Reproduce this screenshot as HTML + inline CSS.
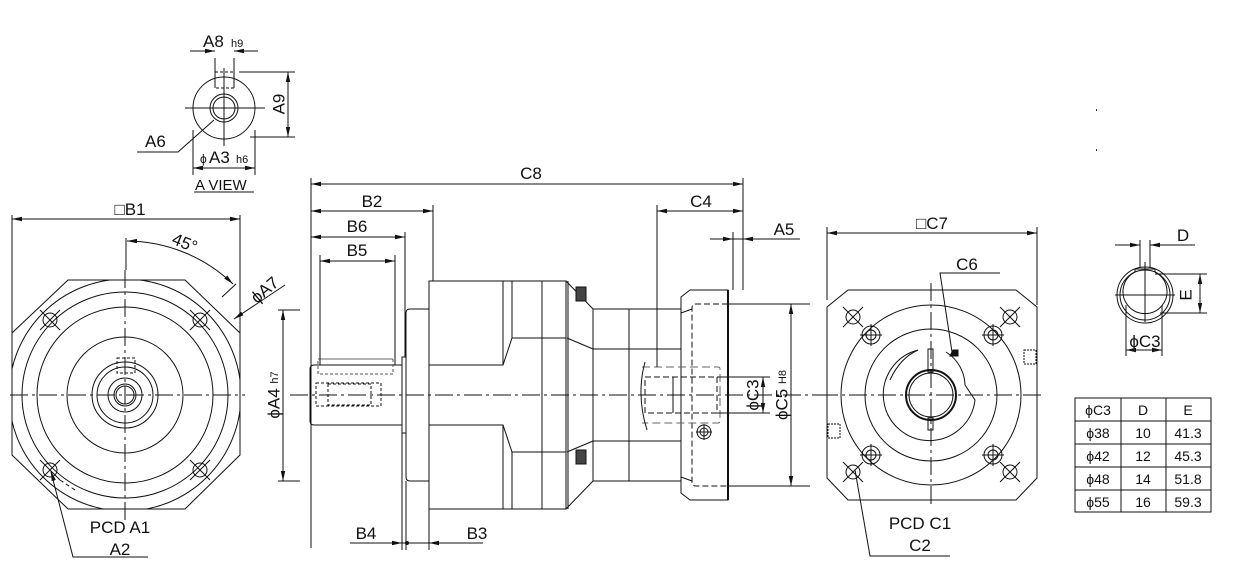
<!DOCTYPE html>
<html><head><meta charset="utf-8"><style>
html,body{margin:0;padding:0;background:#fff;}
svg{display:block;}
text{font-family:"Liberation Sans",Arial,sans-serif;fill:#111;}
</style></head><body>
<svg width="1236" height="588" viewBox="0 0 1236 588" xmlns="http://www.w3.org/2000/svg">
<defs>
<marker id="ar" viewBox="0 0 10 6" refX="10" refY="3" markerWidth="10" markerHeight="6" orient="auto-start-reverse" markerUnits="userSpaceOnUse"><path d="M0,0.8 L10,3 L0,5.2z" fill="#111"/></marker>
<clipPath id="lc"><polygon points="68,280 185,280 240,333 240,455 185,509 68,509 12,455 12,333"/></clipPath>
</defs>
<g fill="none" stroke="#111" stroke-width="1">

<!-- ===== A VIEW ===== -->
<circle cx="224" cy="108" r="31"/>
<circle cx="224" cy="108" r="14"/>
<circle cx="224" cy="108" r="11"/>
<rect x="215" y="72" width="19" height="16" stroke-dasharray="3,2"/>
<line x1="185" y1="108" x2="265" y2="108"/>
<line x1="224" y1="68" x2="224" y2="146"/>
<line x1="215" y1="58" x2="215" y2="88"/><line x1="234" y1="58" x2="234" y2="88"/>
<line x1="190" y1="51" x2="215" y2="51" marker-end="url(#ar)"/>
<line x1="258" y1="51" x2="234" y2="51" marker-end="url(#ar)"/>
<line x1="239" y1="72" x2="295" y2="72"/><line x1="250" y1="137" x2="295" y2="137"/>
<line x1="288" y1="72" x2="288" y2="137" marker-start="url(#ar)" marker-end="url(#ar)"/>
<polyline points="137,152 178,152 214,120"/>
<line x1="193" y1="130" x2="193" y2="175"/><line x1="255" y1="130" x2="255" y2="175"/>
<line x1="193" y1="168" x2="255" y2="168" marker-start="url(#ar)" marker-end="url(#ar)"/>
<line x1="194" y1="192" x2="254" y2="192"/>

<!-- ===== LEFT FRONT VIEW ===== -->
<polygon points="68,280 185,280 240,333 240,455 185,509 68,509 12,455 12,333"/>
<circle cx="125" cy="395" r="116" clip-path="url(#lc)"/>
<circle cx="125" cy="395" r="103"/>
<circle cx="125" cy="395" r="88"/>
<circle cx="125" cy="395" r="58"/>
<circle cx="125" cy="395" r="33"/>
<circle cx="125" cy="395" r="28"/>
<circle cx="125" cy="395" r="17"/>
<circle cx="125" cy="395" r="11"/>
<circle cx="125" cy="395" r="9"/>
<rect x="117" y="358" width="18" height="15" stroke-dasharray="3,2"/>
<line x1="10" y1="395" x2="245" y2="395" stroke-dasharray="18,4,3,4"/>
<line x1="125" y1="270" x2="125" y2="520" stroke-dasharray="18,4,3,4"/>
<g>
<circle cx="50" cy="320" r="7"/><line x1="40" y1="310" x2="60" y2="330"/><line x1="40" y1="330" x2="60" y2="310"/>
<circle cx="200" cy="320" r="7"/><line x1="190" y1="310" x2="210" y2="330"/><line x1="190" y1="330" x2="210" y2="310"/>
<circle cx="50" cy="470" r="7"/><line x1="40" y1="460" x2="60" y2="480"/><line x1="40" y1="480" x2="60" y2="460"/>
<circle cx="200" cy="470" r="7"/><line x1="190" y1="460" x2="210" y2="480"/><line x1="190" y1="480" x2="210" y2="460"/>
<line x1="60" y1="480" x2="75" y2="490" stroke-dasharray="4,3"/>
</g>
<line x1="12" y1="215" x2="12" y2="335"/><line x1="240" y1="215" x2="240" y2="335"/>
<line x1="12" y1="219" x2="240" y2="219" marker-start="url(#ar)" marker-end="url(#ar)"/>
<line x1="126" y1="238" x2="126" y2="270"/>
<path d="M127,241 A155,155 0 0 1 233,284" marker-start="url(#ar)" marker-end="url(#ar)"/>
<line x1="222" y1="297" x2="236" y2="284"/>
<line x1="285" y1="285" x2="234" y2="319" marker-end="url(#ar)"/>
<line x1="278" y1="310" x2="300" y2="310"/><line x1="278" y1="481" x2="300" y2="481"/>
<line x1="283" y1="310" x2="283" y2="481" marker-start="url(#ar)" marker-end="url(#ar)"/>
<polyline points="148,557 73,557 51,472" />
<line x1="53" y1="478" x2="51" y2="471" marker-end="url(#ar)"/>

<!-- ===== SIDE VIEW ===== -->
<line x1="290" y1="395" x2="830" y2="395" stroke-dasharray="18,4,3,4"/>
<path d="M402,365 L314,365 Q310,365 310,369 L310,421 Q310,425 314,425 L402,425"/>
<rect x="318" y="359" width="75" height="15" stroke="#555" stroke-dasharray="3,2"/>
<line x1="318" y1="359" x2="393" y2="359" stroke="#666"/>
<rect x="316" y="383" width="65" height="23" stroke-dasharray="3,2"/>
<rect x="328" y="384" width="43" height="21" stroke-dasharray="3,2"/>
<rect x="402" y="357" width="4" height="76"/>
<path d="M429,309 L410,309 Q406,309 406,313 L406,477 Q406,481 410,481 L429,481"/>
<rect x="429" y="281" width="137" height="228"/>
<polyline points="429,365 503,365 512,338 566,338"/>
<polyline points="429,425 503,425 512,452 566,452"/>
<line x1="503" y1="281" x2="503" y2="365"/><line x1="503" y1="425" x2="503" y2="509"/>
<line x1="512" y1="281" x2="512" y2="338"/><line x1="512" y1="452" x2="512" y2="509"/>
<line x1="542" y1="281" x2="542" y2="509"/>
<line x1="568" y1="281" x2="568" y2="509"/>
<polyline points="566,281 593,309 681,309"/>
<polyline points="566,509 593,481 681,481"/>
<line x1="567" y1="338" x2="593" y2="349"/><line x1="567" y1="452" x2="593" y2="441"/>
<line x1="593" y1="309" x2="593" y2="481"/>
<line x1="593" y1="349" x2="681" y2="349"/><line x1="593" y1="441" x2="681" y2="441"/>
<line x1="629" y1="309" x2="629" y2="481"/>
<rect x="576" y="287" width="10" height="14" fill="#444"/>
<rect x="576" y="450" width="10" height="14" fill="#444"/>
<polygon points="681,297 690,290 728,290 728,500 690,500 681,493"/>
<line x1="728" y1="290" x2="728" y2="500" stroke-width="2"/>
<line x1="681" y1="313" x2="692" y2="309"/><line x1="681" y1="477" x2="692" y2="481"/>
<path d="M728,304 L696,304 Q692,304 692,308 L692,482 Q692,486 696,486 L728,486" stroke-dasharray="6,3"/>
<path d="M642,367 L718,367 Q720,367 720,369 L720,421 Q720,423 718,423 L642,423" stroke="#666" stroke-dasharray="8,4"/>
<rect x="645" y="377" width="72" height="36" stroke-dasharray="6,3"/>
<line x1="673" y1="377" x2="673" y2="413"/>
<path d="M645,362 Q636,395 647,430"/>
<circle cx="704" cy="432" r="7"/><circle cx="704" cy="432" r="4"/>
<line x1="696" y1="432" x2="712" y2="432"/><line x1="704" y1="424" x2="704" y2="440"/>
<line x1="717" y1="377" x2="770" y2="377"/><line x1="717" y1="413" x2="770" y2="413"/>
<line x1="763" y1="377" x2="763" y2="413" marker-start="url(#ar)" marker-end="url(#ar)"/>
<line x1="728" y1="304" x2="810" y2="304"/><line x1="728" y1="486" x2="810" y2="486"/>
<line x1="791" y1="304" x2="791" y2="486" marker-start="url(#ar)" marker-end="url(#ar)"/>
<!-- top dims -->
<line x1="311" y1="178" x2="311" y2="548"/>
<line x1="320" y1="255" x2="320" y2="365"/>
<line x1="395" y1="255" x2="395" y2="365"/>
<line x1="405" y1="232" x2="405" y2="357"/>
<line x1="433" y1="205" x2="433" y2="281"/>
<line x1="657" y1="205" x2="657" y2="367"/>
<line x1="733" y1="232" x2="733" y2="290"/>
<line x1="743" y1="178" x2="743" y2="290"/>
<line x1="311" y1="184" x2="743" y2="184" marker-start="url(#ar)" marker-end="url(#ar)"/>
<line x1="311" y1="211" x2="433" y2="211" marker-start="url(#ar)" marker-end="url(#ar)"/>
<line x1="311" y1="237" x2="405" y2="237" marker-start="url(#ar)" marker-end="url(#ar)"/>
<line x1="320" y1="261" x2="395" y2="261" marker-start="url(#ar)" marker-end="url(#ar)"/>
<line x1="657" y1="211" x2="743" y2="211" marker-start="url(#ar)" marker-end="url(#ar)"/>
<line x1="710" y1="239" x2="733" y2="239" marker-end="url(#ar)"/>
<line x1="800" y1="239" x2="743" y2="239" marker-end="url(#ar)"/>
<line x1="733" y1="239" x2="743" y2="239"/>
<!-- bottom dims -->
<line x1="402" y1="433" x2="402" y2="550"/><line x1="406" y1="481" x2="406" y2="550"/><line x1="429" y1="509" x2="429" y2="550"/>
<line x1="350" y1="543" x2="402" y2="543" marker-end="url(#ar)"/>
<line x1="483" y1="543" x2="429" y2="543" marker-end="url(#ar)"/>
<line x1="402" y1="543" x2="429" y2="543"/>
<circle cx="407" cy="543" r="1.5" fill="#111"/>

<!-- ===== RIGHT FRONT VIEW ===== -->
<polygon points="848,290 1016,290 1037,307 1037,478 1016,500 848,500 827,478 827,307"/>
<circle cx="931" cy="395" r="90"/>
<circle cx="931" cy="395" r="66"/>
<path d="M918,350 A46,46 0 1 0 975,400 L965,385 A40,40 0 0 0 946,352" />
<path d="M918,350 Q900,358 890,380"/>
<circle cx="931" cy="395" r="25" stroke-width="2"/>
<circle cx="931" cy="395" r="22"/>
<rect x="928" y="349" width="5" height="23"/>
<rect x="928" y="418" width="5" height="12"/>
<polygon points="953,350 958,350 958,356 950,356" fill="#111"/>
<line x1="820" y1="395" x2="1045" y2="395" stroke-dasharray="18,4,3,4"/>
<line x1="931" y1="283" x2="931" y2="507" stroke-dasharray="18,4,3,4"/>
<g>
<circle cx="871" cy="335" r="9"/><circle cx="871" cy="335" r="5"/>
<circle cx="993" cy="335" r="9"/><circle cx="993" cy="335" r="5"/>
<circle cx="871" cy="455" r="9"/><circle cx="871" cy="455" r="5"/>
<circle cx="993" cy="455" r="9"/><circle cx="993" cy="455" r="5"/>
<line x1="860" y1="335" x2="882" y2="335"/><line x1="871" y1="324" x2="871" y2="346"/>
<line x1="982" y1="335" x2="1004" y2="335"/><line x1="993" y1="324" x2="993" y2="346"/>
<line x1="860" y1="455" x2="882" y2="455"/><line x1="871" y1="444" x2="871" y2="466"/>
<line x1="982" y1="455" x2="1004" y2="455"/><line x1="993" y1="444" x2="993" y2="466"/>
<circle cx="853" cy="317" r="7"/><line x1="843" y1="307" x2="863" y2="327"/><line x1="843" y1="327" x2="863" y2="307"/>
<circle cx="1010" cy="317" r="7"/><line x1="1000" y1="307" x2="1020" y2="327"/><line x1="1000" y1="327" x2="1020" y2="307"/>
<circle cx="853" cy="472" r="7"/><line x1="843" y1="462" x2="863" y2="482"/><line x1="843" y1="482" x2="863" y2="462"/>
<circle cx="1010" cy="472" r="7"/><line x1="1000" y1="462" x2="1020" y2="482"/><line x1="1000" y1="482" x2="1020" y2="462"/>
</g>
<rect x="1024" y="350" width="12" height="14" stroke-dasharray="2,1"/>
<rect x="828" y="424" width="12" height="14" stroke-dasharray="2,1"/>
<line x1="827" y1="227" x2="827" y2="300"/><line x1="1037" y1="227" x2="1037" y2="305"/>
<line x1="827" y1="233" x2="1037" y2="233" marker-start="url(#ar)" marker-end="url(#ar)"/>
<polyline points="1000,273 940,273 952,352"/>
<polyline points="950,556 870,556 855,470"/>

<!-- ===== SHAFT DETAIL ===== -->
<circle cx="1145" cy="295" r="28"/>
<circle cx="1145" cy="295" r="25"/>
<path d="M1135,272 A22,22 0 1 0 1155,272 L1155,269 L1135,269 Z"/>
<line x1="1115" y1="295" x2="1175" y2="295"/>
<line x1="1145" y1="262" x2="1145" y2="322"/>
<line x1="1140" y1="240" x2="1140" y2="268"/><line x1="1150" y1="240" x2="1150" y2="268"/>
<line x1="1115" y1="245" x2="1140" y2="245" marker-end="url(#ar)"/>
<line x1="1195" y1="245" x2="1150" y2="245" marker-end="url(#ar)"/>
<line x1="1155" y1="274" x2="1207" y2="274"/><line x1="1160" y1="313" x2="1207" y2="313"/>
<line x1="1200" y1="274" x2="1200" y2="313" marker-start="url(#ar)" marker-end="url(#ar)"/>
<line x1="1126" y1="305" x2="1126" y2="356"/><line x1="1162" y1="305" x2="1162" y2="356"/>
<line x1="1126" y1="350" x2="1162" y2="350" marker-start="url(#ar)" marker-end="url(#ar)"/>

<!-- table -->
<rect x="1075" y="398" width="136" height="114"/>
<line x1="1121" y1="398" x2="1121" y2="512"/><line x1="1166" y1="398" x2="1166" y2="512"/>
<line x1="1075" y1="421" x2="1211" y2="421"/><line x1="1075" y1="444" x2="1211" y2="444"/>
<line x1="1075" y1="467" x2="1211" y2="467"/><line x1="1075" y1="490" x2="1211" y2="490"/>
</g>
<rect x="1096" y="109" width="1" height="2" fill="#333"/>
<rect x="1096" y="149" width="1" height="2" fill="#333"/>

<!-- ===== TEXT ===== -->
<g font-size="17">
<text x="203" y="47">A8</text><text x="231" y="47" font-size="11">h9</text>
<text x="280" y="104" transform="rotate(-90 280 104)" text-anchor="middle" dominant-baseline="middle">A9</text>
<text x="145" y="147">A6</text>
<text x="200" y="163" font-size="12">ϕ</text><text x="209" y="163">A3</text><text x="236" y="163" font-size="11">h6</text>
<text x="195" y="190" font-size="15">A VIEW</text>
<text x="130" y="215" text-anchor="middle">□B1</text>
<text x="172" y="249" transform="rotate(22 186 243)">45°</text>
<text x="248" y="300" transform="rotate(-40 258 290)">ϕA7</text>
<text x="275" y="395" transform="rotate(-90 275 395)" text-anchor="middle" dominant-baseline="middle">ϕA4 <tspan font-size="11">h7</tspan></text>
<text x="120" y="533" text-anchor="middle">PCD A1</text>
<text x="120" y="555" text-anchor="middle">A2</text>
<text x="531" y="179" text-anchor="middle">C8</text>
<text x="372" y="207" text-anchor="middle">B2</text>
<text x="357" y="232" text-anchor="middle">B6</text>
<text x="357" y="256" text-anchor="middle">B5</text>
<text x="701" y="207" text-anchor="middle">C4</text>
<text x="784" y="235" text-anchor="middle">A5</text>
<text x="366" y="539" text-anchor="middle">B4</text>
<text x="477" y="539" text-anchor="middle">B3</text>
<text x="754" y="395" transform="rotate(-90 754 395)" text-anchor="middle" dominant-baseline="middle">ϕC3</text>
<text x="783" y="395" transform="rotate(-90 783 395)" text-anchor="middle" dominant-baseline="middle">ϕC5 <tspan font-size="11">H8</tspan></text>
<text x="932" y="229" text-anchor="middle">□C7</text>
<text x="967" y="270" text-anchor="middle">C6</text>
<text x="920" y="529" text-anchor="middle">PCD C1</text>
<text x="920" y="551" text-anchor="middle">C2</text>
<text x="1183" y="241" text-anchor="middle">D</text>
<text x="1187" y="295" transform="rotate(-90 1187 295)" text-anchor="middle" dominant-baseline="middle">E</text>
<text x="1145" y="347" text-anchor="middle">ϕC3</text>
</g>
<g font-size="14" text-anchor="middle">
<text x="1098" y="415">ϕC3</text><text x="1143" y="415">D</text><text x="1188" y="415">E</text>
<text x="1098" y="438">ϕ38</text><text x="1143" y="438">10</text><text x="1188" y="438">41.3</text>
<text x="1098" y="461">ϕ42</text><text x="1143" y="461">12</text><text x="1188" y="461">45.3</text>
<text x="1098" y="484">ϕ48</text><text x="1143" y="484">14</text><text x="1188" y="484">51.8</text>
<text x="1098" y="507">ϕ55</text><text x="1143" y="507">16</text><text x="1188" y="507">59.3</text>
</g>
</svg>
</body></html>
